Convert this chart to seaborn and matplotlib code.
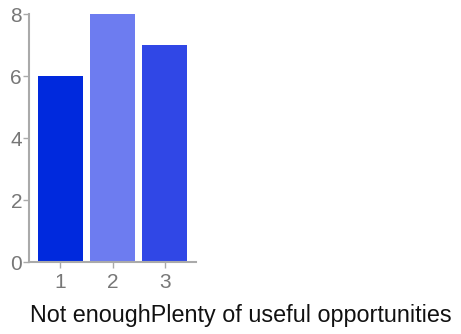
import pandas as pd
import matplotlib
matplotlib.use("Agg")
import matplotlib.pyplot as plt
import seaborn as sns

# === Data ===
categories = ["1", "2", "3"]
counts = [6, 8, 7]
bar_colors = ["#0029dd", "#6d7cf0", "#3047e6"]
x_label = "Not enoughPlenty of useful opportunities"

df = pd.DataFrame({"Rating": categories, "Count": counts})

sns.set_style("white")
plt.rcParams["font.family"] = ["Liberation Sans", "DejaVu Sans"]

fig = plt.figure(figsize=(4.61, 3.34), dpi=100)
ax = fig.add_axes([29 / 461, 72 / 334, 167 / 461, 248 / 334])

sns.barplot(
    data=df,
    x="Rating",
    y="Count",
    hue="Rating",
    palette=bar_colors,
    saturation=1,
    legend=False,
    width=0.86,
    edgecolor="none",
    ax=ax,
)

ax.set_xlim(-0.6, 2.6)
ax.set_ylim(0, 8)
ax.set_yticks([0, 2, 4, 6, 8])
ax.set_ylabel("")
ax.set_xlabel("")

# long axis title, centred on the whole figure like the original
fig.text(241 / 461, 12 / 334, x_label, fontsize=16.8, color="#111111",
         ha="center", va="baseline")

for side in ["top", "right"]:
    ax.spines[side].set_visible(False)
for side in ["left", "bottom"]:
    ax.spines[side].set_color("#aaaaaa")
    ax.spines[side].set_linewidth(1.5)

ax.tick_params(axis="both", which="both", length=4, width=1, color="#aaaaaa",
               labelcolor="#777777", labelsize=15, direction="out")
ax.tick_params(axis="x", bottom=True, pad=4)
ax.tick_params(axis="y", left=True, pad=1)

fig.savefig("out.png", dpi=100)
